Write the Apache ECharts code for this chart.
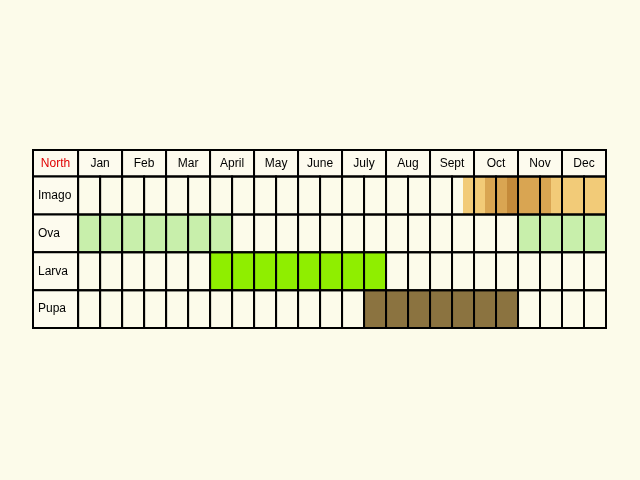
<!DOCTYPE html>
<html><head><meta charset="utf-8">
<script src="https://cdn.jsdelivr.net/npm/echarts@6/dist/echarts.min.js"></script>
<style>html,body{margin:0;background:#fcfbea}#c{width:640px;height:480px}</style>
</head><body><div id="c"></div>
<script>
const months = ["Jan","Feb","Mar","April","May","June","July","Aug","Sept","Oct","Nov","Dec"];
const stages = ["Imago","Ova","Larva","Pupa"];
// segments in half-month units: [start, end, stage index, colour]
const imago = [[17.5,18.5,"#f2cb78"],[18.5,19.5,"#d9a552"],[19.5,20,"#c48a3a"],[20,21.5,"#d9a552"],[21.5,24,"#f2cb78"]];
const ova = [[0,7,"#c8efab"],[20,24,"#c8efab"]];
const larva = [[6,14,"#8fee00"]];
const pupa = [[13,20,"#8b7340"]];

const segs = [];
[imago, ova, larva, pupa].forEach((list, r) => list.forEach(s => segs.push([s[0], s[1], r, s[2]])));
const LAB = -2.05, HEAD = 0.7;
const border = [];
// header cells
border.push([LAB, 0, 0, HEAD, "North", "#e00000"]);
months.forEach((m, i) => border.push([i * 2, i * 2 + 2, 0, HEAD, m, "#000"]));
stages.forEach((s, r) => {
  border.push([LAB, 0, HEAD + r, HEAD + r + 1, s, "#000"]);
  for (let h = 0; h < 24; h++) border.push([h, h + 1, HEAD + r, HEAD + r + 1, "", "#000"]);
});

const chart = echarts.init(document.getElementById("c"));
chart.setOption({
  backgroundColor: "#fcfbea",
  animation: false,
  grid: { left: 33, width: 573, top: 150, height: 178 },
  xAxis: { type: "value", min: LAB, max: 24, show: false },
  yAxis: { type: "value", min: 0, max: HEAD + 4, inverse: true, show: false },
  series: [
    { type: "custom", data: segs, z: 1,
      renderItem: (p, api) => {
        const a = api.coord([api.value(0), HEAD + api.value(2)]);
        const b = api.coord([api.value(1), HEAD + api.value(2) + 1]);
        return { type: "rect", shape: { x: a[0], y: a[1], width: b[0] - a[0], height: b[1] - a[1] },
          style: { fill: segs[p.dataIndex][3] } };
      } },
    { type: "custom", data: border, z: 2,
      renderItem: (p, api) => {
        const d = border[p.dataIndex];
        const a = api.coord([d[0], d[2]]);
        const b = api.coord([d[1], d[3]]);
        const isLabel = d[0] === LAB && d[2] >= HEAD;
        return { type: "group", children: [
          { type: "rect", shape: { x: a[0], y: a[1], width: b[0] - a[0], height: b[1] - a[1] },
            style: { fill: p.dataIndex < 13 || isLabel ? "#fdfbee" : "transparent", stroke: "#000", lineWidth: 2 } },
          { type: "text", style: { text: d[4], x: isLabel ? a[0] + 5 : (a[0] + b[0]) / 2, y: (a[1] + b[1]) / 2,
            align: isLabel ? "left" : "center", verticalAlign: "middle", fill: d[5],
            font: "12px 'Liberation Sans', Arial, sans-serif" } }
        ] };
      } }
  ]
});
</script></body></html>
